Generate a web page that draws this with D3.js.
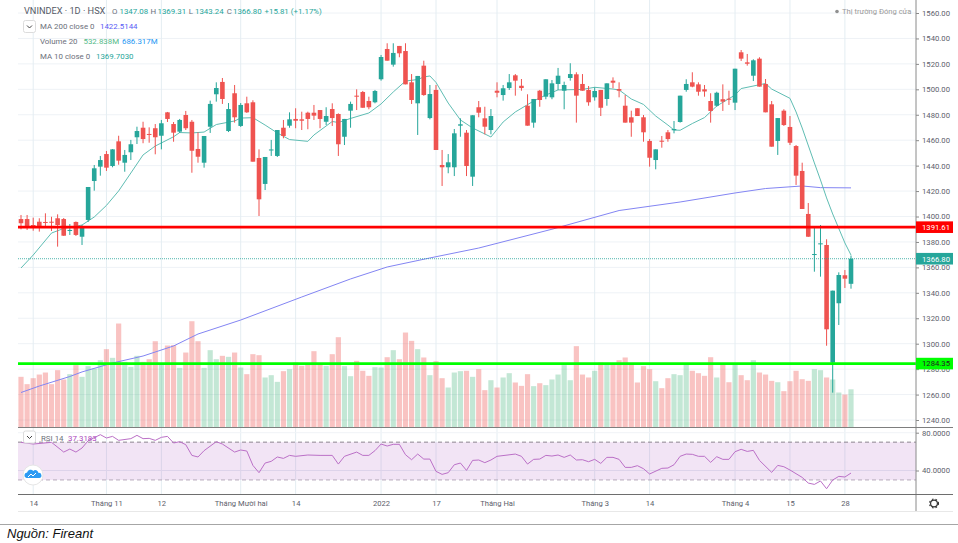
<!DOCTYPE html>
<html lang="vi">

<head>
    <meta charset="utf-8">
    <script src="https://d3js.org/d3.v7.min.js"></script>
    <style>
        body { margin: 0; background: white; }
        svg text { font-family: Roboto, sans-serif; }
        .axis-y text, .axis-rsi text { font-size: 7.7px; fill: #5d606b; }
        .axis-x text { font-size: 7.6px; fill: #5d606b; }
        .legend { font-size: 7.9px; fill: #6b6f7a; }
    </style>
</head>

<body>
    <div id="chart"></div>

    <script>
        // daily candles
        const opens = [
            1398.0, 1398.0, 1393.3, 1395.9, 1395.7, 1395.9, 1398.6, 1398.0, 1388.6, 1395.7,
            1384.1, 1397.3, 1427.9, 1439.2, 1449.1, 1439.7, 1459.1, 1442.3, 1450.5, 1462.3,
            1469.8, 1464.9, 1469.4, 1463.5, 1481.9, 1472.7, 1466.7, 1479.8, 1474.5, 1453.1,
            1442.3, 1470.6, 1496.1, 1505.8, 1467.2, 1496.9, 1471.2, 1489.0, 1489.8, 1446.0,
            1425.6, 1452.0, 1447.6, 1469.8, 1471.4, 1476.7, 1476.4, 1481.6, 1481.6, 1483.7,
            1474.5, 1484.5, 1480.6, 1462.7, 1483.2, 1495.0, 1497.9, 1490.8, 1489.8, 1507.9,
            1531.7, 1519.4, 1534.1, 1530.1, 1505.5, 1489.0, 1518.6, 1477.4, 1499.5, 1440.5,
            1438.7, 1438.7, 1471.4, 1465.9, 1431.3, 1485.9, 1477.2, 1468.0, 1498.9, 1495.5,
            1501.0, 1511.0, 1502.8, 1487.1, 1473.8, 1498.9, 1494.2, 1493.7, 1504.2, 1498.9,
            1508.9, 1511.8, 1504.2, 1499.5, 1493.7, 1499.5, 1492.4, 1506.8, 1500.2, 1487.1,
            1478.0, 1485.1, 1478.0, 1459.4, 1444.4, 1459.6, 1466.2, 1467.8, 1474.3, 1499.5,
            1505.5, 1503.9, 1500.0, 1490.8, 1487.1, 1492.2, 1492.6, 1489.5, 1529.1, 1521.2,
            1510.7, 1524.1, 1504.2, 1488.2, 1459.4, 1483.2, 1470.4, 1455.4, 1435.8, 1402.0,
            1370.0, 1378.1, 1377.6, 1285.1, 1331.8, 1353.8, 1347.08
        ];
        const closes = [
            1394.7, 1392.0, 1392.5, 1392.0, 1394.9, 1395.1, 1393.3, 1384.9, 1389.4, 1385.5,
            1392.0, 1423.2, 1437.9, 1444.4, 1438.4, 1452.8, 1443.9, 1448.4, 1456.8, 1467.2,
            1460.9, 1464.3, 1462.3, 1473.3, 1476.7, 1465.9, 1475.9, 1469.4, 1451.7, 1447.0,
            1463.3, 1488.5, 1501.0, 1492.4, 1484.5, 1478.0, 1487.7, 1481.9, 1443.1, 1413.5,
            1446.8, 1452.7, 1468.0, 1463.3, 1476.4, 1475.3, 1475.3, 1476.7, 1479.3, 1476.7,
            1479.0, 1477.4, 1456.8, 1476.7, 1488.5, 1494.2, 1485.5, 1485.9, 1498.7, 1525.4,
            1522.5, 1528.6, 1528.3, 1503.9, 1491.6, 1510.5, 1495.5, 1496.3, 1452.3, 1438.7,
            1442.6, 1465.4, 1472.5, 1439.7, 1479.6, 1481.6, 1470.6, 1479.0, 1497.3, 1500.8,
            1505.5, 1506.8, 1501.0, 1471.4, 1492.4, 1491.6, 1507.9, 1504.7, 1510.7, 1503.4,
            1512.0, 1495.0, 1498.9, 1489.8, 1498.7, 1485.5, 1504.7, 1505.2, 1498.9, 1473.8,
            1473.8, 1479.0, 1466.2, 1446.2, 1452.8, 1458.8, 1460.9, 1468.8, 1495.0, 1504.2,
            1502.1, 1498.1, 1498.3, 1483.0, 1497.3, 1490.3, 1491.8, 1516.2, 1524.1, 1520.1,
            1522.8, 1502.1, 1481.9, 1454.9, 1477.4, 1471.9, 1458.0, 1432.1, 1405.9, 1384.1,
            1370.5, 1378.9, 1311.3, 1341.7, 1354.0, 1351.1, 1366.80
        ];
        const highs = [
            1401.2, 1401.2, 1399.1, 1398.6, 1402.5, 1399.8, 1401.7, 1398.8, 1394.1, 1396.1,
            1393.3, 1423.2, 1440.5, 1447.6, 1451.5, 1453.0, 1463.5, 1452.3, 1460.2, 1470.6,
            1474.5, 1470.1, 1472.7, 1475.9, 1482.2, 1474.3, 1476.7, 1483.0, 1475.9, 1466.2,
            1463.3, 1491.1, 1505.5, 1508.9, 1489.2, 1503.4, 1489.2, 1494.2, 1491.4, 1452.8,
            1446.8, 1460.2, 1468.0, 1475.9, 1481.9, 1485.1, 1482.4, 1482.4, 1487.7, 1483.7,
            1485.9, 1489.0, 1481.1, 1476.7, 1490.3, 1500.0, 1498.7, 1494.2, 1499.5, 1527.0,
            1536.2, 1536.2, 1534.1, 1536.2, 1512.0, 1510.5, 1522.5, 1503.4, 1503.4, 1452.3,
            1449.1, 1468.8, 1477.2, 1468.0, 1479.6, 1490.8, 1486.3, 1484.5, 1505.5, 1503.4,
            1512.0, 1512.0, 1508.1, 1496.1, 1492.4, 1499.5, 1507.9, 1507.3, 1516.8, 1506.0,
            1520.5, 1513.4, 1512.0, 1502.6, 1501.6, 1499.5, 1504.7, 1509.4, 1505.5, 1495.5,
            1483.2, 1485.1, 1479.8, 1460.9, 1452.8, 1463.3, 1468.0, 1475.1, 1495.0, 1507.9,
            1513.4, 1505.5, 1503.4, 1496.9, 1498.1, 1503.9, 1498.9, 1516.2, 1530.9, 1527.8,
            1523.6, 1525.2, 1508.1, 1490.8, 1477.4, 1484.3, 1479.0, 1456.2, 1442.3, 1410.6,
            1392.5, 1393.3, 1382.1, 1341.7, 1356.1, 1357.9, 1369.31
        ];
        const lows = [
            1389.9, 1389.4, 1388.8, 1388.1, 1392.0, 1388.6, 1376.3, 1384.7, 1385.5, 1384.7,
            1377.6, 1395.7, 1420.3, 1432.1, 1435.8, 1438.7, 1440.7, 1435.2, 1444.4, 1457.0,
            1457.6, 1458.0, 1448.9, 1452.8, 1474.3, 1458.8, 1465.7, 1468.0, 1434.4, 1442.3,
            1438.4, 1465.7, 1490.3, 1488.5, 1466.4, 1473.8, 1470.4, 1481.4, 1443.1, 1400.4,
            1420.8, 1447.6, 1446.8, 1461.5, 1469.8, 1469.4, 1468.0, 1468.6, 1475.9, 1469.4,
            1471.9, 1471.2, 1447.6, 1456.2, 1469.8, 1483.7, 1485.5, 1484.3, 1489.0, 1506.8,
            1522.5, 1517.8, 1525.2, 1503.9, 1488.5, 1464.1, 1494.9, 1476.4, 1452.3, 1424.0,
            1434.0, 1431.8, 1462.7, 1431.8, 1424.0, 1478.0, 1464.6, 1464.6, 1493.7, 1491.1,
            1499.5, 1495.0, 1498.9, 1471.4, 1469.8, 1486.3, 1492.2, 1492.2, 1499.5, 1484.3,
            1506.8, 1473.8, 1498.9, 1487.1, 1491.1, 1479.0, 1487.1, 1500.8, 1493.7, 1473.8,
            1462.7, 1479.0, 1458.8, 1439.2, 1437.1, 1454.1, 1458.8, 1465.4, 1473.8, 1498.1,
            1501.6, 1495.0, 1494.2, 1473.8, 1486.3, 1483.0, 1487.7, 1483.7, 1522.3, 1518.6,
            1506.5, 1502.1, 1481.9, 1454.9, 1448.4, 1471.2, 1456.2, 1424.8, 1405.9, 1383.9,
            1356.6, 1352.7, 1298.4, 1261.5, 1314.7, 1343.8, 1343.24
        ];

        // volume in millions
        const volumes = [
            707, 605, 688, 739, 767, 605, 800, 670, 744, 870,
            707, 856, 823, 939, 1093, 972, 1451, 916, 846, 1000,
            916, 953, 1204, 893, 1144, 1149, 832, 1046, 1483, 1204,
            832, 1079, 953, 1000, 986, 1046, 837, 744, 1023, 1009,
            698, 730, 637, 786, 814, 907, 860, 884, 1065, 893,
            860, 1023, 1260, 856, 716, 930, 791, 721, 842, 837,
            981, 1079, 953, 1325, 1209, 1093, 977, 730, 925, 688,
            558, 767, 786, 791, 707, 814, 521, 660, 558, 698,
            758, 628, 581, 744, 577, 618, 591, 670, 739, 870,
            660, 1135, 739, 698, 791, 907, 902, 879, 939, 977,
            893, 628, 856, 814, 646, 549, 688, 744, 730, 893,
            791, 758, 721, 981, 698, 884, 632, 893, 730, 660,
            939, 767, 739, 651, 632, 507, 646, 791, 674, 651,
            814, 800, 698, 670, 488, 460, 533
        ];

        // line vertices as read: bar number and value
        const ma10Bars = [0, 2, 5, 7, 10, 12, 14, 16, 18, 20, 22, 25, 26, 28, 30, 32, 35, 36, 38, 40, 42, 44, 47, 48, 51, 52, 54, 57, 59, 61, 63, 65, 66, 67, 68, 70, 72, 74, 76, 77, 79, 81, 84, 86, 88, 92, 94, 97, 98, 100, 102, 104, 106, 107, 108, 110, 112, 114, 117, 118, 122, 123, 126, 127, 128, 130, 131, 132, 133, 135, 136];
        const ma10Values = [1359.5, 1369.7, 1387.0, 1390.6, 1393.3, 1399.6, 1408.7, 1420.1, 1434.2, 1448.4, 1455.4, 1462.7, 1466.0, 1465.7, 1466.4, 1472.3, 1475.1, 1477.4, 1477.7, 1471.9, 1465.7, 1460.5, 1459.1, 1464.1, 1474.7, 1473.9, 1477.1, 1481.4, 1488.5, 1497.9, 1506.5, 1507.7, 1509.7, 1510.5, 1505.4, 1489.2, 1475.9, 1469.6, 1464.9, 1462.5, 1474.3, 1482.2, 1490.8, 1495.5, 1499.5, 1499.9, 1501.6, 1500.2, 1499.5, 1492.4, 1488.1, 1479.0, 1471.9, 1468.0, 1467.8, 1473.1, 1477.8, 1486.9, 1495.5, 1500.6, 1504.6, 1500.2, 1492.9, 1482.2, 1469.6, 1442.1, 1428.7, 1414.6, 1402.0, 1379.2, 1369.7];

        const ma200Bars = [0, 3, 8, 10, 15, 20, 25, 29, 36, 46, 54, 60, 67, 75, 87, 98, 108, 117, 122, 128, 131, 136];
        const ma200Values = [1261.6, 1266.7, 1274.2, 1277.8, 1284.8, 1290.3, 1298.2, 1307.6, 1318.6, 1336.7, 1350.9, 1360.3, 1367.4, 1375.2, 1390.0, 1404.7, 1411.4, 1418.5, 1422.0, 1424.0, 1422.7, 1422.51];

        const rsiBars = [0, 2, 5, 7, 8, 9, 10, 11, 13, 14, 15, 16, 18, 19, 20, 21, 22, 23, 24, 25, 26, 27, 28, 29, 30, 32, 33, 35, 36, 37, 38, 39, 40, 41, 42, 43, 44, 45, 47, 49, 51, 52, 53, 55, 56, 57, 58, 59, 60, 61, 62, 63, 64, 65, 66, 67, 68, 69, 70, 71, 72, 73, 74, 75, 76, 77, 78, 81, 82, 83, 84, 85, 86, 87, 88, 89, 90, 91, 92, 93, 94, 95, 96, 97, 98, 99, 100, 101, 102, 103, 105, 106, 107, 108, 109, 110, 111, 112, 113, 114, 115, 116, 117, 118, 119, 120, 121, 123, 124, 125, 126, 128, 129, 130, 131, 132, 133, 134, 135, 136];
        const rsiValues = [69.8, 68.0, 69.8, 59.5, 62.7, 59.5, 63.8, 71.5, 77.9, 74.4, 76.1, 71.9, 73.7, 77.2, 73.7, 74.0, 71.9, 75.1, 76.1, 69.1, 70.5, 67.3, 56.0, 54.3, 61.0, 70.5, 68.0, 59.5, 61.7, 60.6, 45.4, 37.7, 47.9, 49.7, 54.3, 52.8, 56.0, 55.0, 56.4, 56.0, 56.0, 46.8, 55.0, 59.5, 56.0, 56.0, 61.0, 68.0, 65.9, 67.7, 67.7, 56.7, 51.4, 57.4, 52.1, 52.1, 39.1, 35.9, 37.7, 46.1, 47.9, 40.1, 50.7, 51.1, 48.3, 51.1, 55.0, 57.4, 55.0, 46.8, 51.8, 52.1, 56.0, 55.3, 56.4, 53.9, 56.4, 51.1, 51.4, 49.3, 51.8, 47.5, 53.9, 53.9, 51.8, 43.3, 43.3, 45.1, 41.9, 36.3, 42.3, 42.6, 46.1, 55.0, 57.4, 57.1, 55.0, 55.0, 48.6, 54.6, 51.8, 51.8, 59.9, 62.4, 60.2, 61.3, 50.7, 38.0, 45.4, 44.0, 40.5, 32.7, 26.7, 25.3, 28.9, 20.7, 29.9, 33.8, 33.1, 37.3];

        // axis labels
        const priceTicks = [1240, 1260, 1280, 1300, 1320, 1340, 1360, 1380, 1400, 1420, 1440, 1460, 1480, 1500, 1520, 1540, 1560];
        const rsiTicks = [40, 80];
        const timeBars = [2, 14, 23, 36, 45, 59, 68, 78, 94, 103, 117, 126, 135];
        const timeLabels = ["14", "Tháng 11", "12", "Tháng Mười hai", "14", "2022", "17", "Tháng Hai", "Tháng 3", "14", "Tháng 4", "15", "28"];

        // drawn price levels
        const redLevel = 1391.61;
        const greenLevel = 1284.35;
        const lastClose = 1366.80;

        const up = "#26a69a", down = "#ef5350";
        const left = 18, axisX = 916, right = 953;
        const paneBottom = 427.5, rsiBottom = 494.5;

        const svg = d3.select("#chart").append("svg")
            .attr("width", 958)
            .attr("height", 543)
            .style("display", "block");

        const x = d3.scaleLinear().domain([0, 136]).range([21, 851]);
        const y = d3.scaleLinear().domain([1240, 1560]).range([420, 13]);
        const yVol = d3.scaleLinear().domain([0, 1500]).range([paneBottom, 320]);
        const yRsi = d3.scaleLinear().domain([40, 80]).range([470.5, 432.7]);

        // grid
        const grid = svg.append("g");
        grid.selectAll(".h").data(priceTicks).join("line")
            .attr("x1", left).attr("x2", axisX)
            .attr("y1", d => y(d)).attr("y2", d => y(d))
            .attr("stroke", "#eef2f6");
        grid.selectAll(".v").data(timeBars).join("line")
            .attr("x1", d => x(d)).attr("x2", d => x(d))
            .attr("y1", 0).attr("y2", rsiBottom)
            .attr("stroke", "#e4edf2");

        // RSI band sits under the lines
        const rsi = svg.append("g");
        rsi.append("rect")
            .attr("x", left).attr("width", axisX - left)
            .attr("y", yRsi(70)).attr("height", yRsi(30) - yRsi(70))
            .attr("fill", "#ab47bc").attr("opacity", 0.15);
        rsi.append("line")
            .attr("x1", left).attr("x2", axisX)
            .attr("y1", yRsi(80)).attr("y2", yRsi(80))
            .attr("stroke", "#f0f3f7");
        rsi.append("line")
            .attr("x1", left).attr("x2", axisX)
            .attr("y1", yRsi(40)).attr("y2", yRsi(40))
            .attr("stroke", "#ddd3ea");
        [70, 30].forEach(v => rsi.append("line")
            .attr("x1", left).attr("x2", axisX)
            .attr("y1", yRsi(v)).attr("y2", yRsi(v))
            .attr("stroke", v === 70 ? "#8d8590" : "#b7a9ba")
            .attr("stroke-dasharray", "4,3"));
        rsi.append("path")
            .datum(d3.zip(rsiBars, rsiValues))
            .attr("fill", "none")
            .attr("stroke", "#bb70c7")
            .attr("stroke-width", 1)
            .attr("d", d3.line().x(d => x(d[0])).y(d => yRsi(d[1])));

        // volume
        const isUp = i => closes[i] >= opens[i];
        svg.append("g").selectAll("rect").data(volumes).join("rect")
            .attr("x", (d, i) => x(i) - 2.6)
            .attr("width", 5.2)
            .attr("y", d => yVol(d))
            .attr("height", d => paneBottom - yVol(d))
            .attr("fill", (d, i) => isUp(i) ? "#53b987" : "#ef5350")
            .attr("opacity", 0.35);

        // moving averages
        const priceLine = d3.line().x(d => x(d[0])).y(d => y(d[1]));
        svg.append("path")
            .datum(d3.zip(ma200Bars, ma200Values))
            .attr("fill", "none").attr("stroke", "#8385f3").attr("stroke-width", 1)
            .attr("d", priceLine);
        svg.append("path")
            .datum(d3.zip(ma10Bars, ma10Values))
            .attr("fill", "none").attr("stroke", "#5fbdb3").attr("stroke-width", 1)
            .attr("d", priceLine);

        // candles
        const candles = svg.append("g").selectAll("g").data(opens).join("g");
        candles.append("line")
            .attr("x1", (d, i) => x(i)).attr("x2", (d, i) => x(i))
            .attr("y1", (d, i) => y(highs[i])).attr("y2", (d, i) => y(lows[i]))
            .attr("stroke", (d, i) => isUp(i) ? up : down);
        candles.append("rect")
            .attr("x", (d, i) => x(i) - 2.3)
            .attr("width", 4.6)
            .attr("y", (d, i) => y(Math.max(opens[i], closes[i])))
            .attr("height", (d, i) => Math.max(1, Math.abs(y(opens[i]) - y(closes[i]))))
            .attr("fill", (d, i) => isUp(i) ? up : down);

        // last price dotted line and the two drawn levels
        svg.append("line")
            .attr("x1", left).attr("x2", axisX)
            .attr("y1", y(lastClose)).attr("y2", y(lastClose))
            .attr("stroke", up).attr("stroke-dasharray", "1,1").attr("opacity", 0.8);
        svg.append("line")
            .attr("x1", left).attr("x2", axisX)
            .attr("y1", y(redLevel)).attr("y2", y(redLevel))
            .attr("stroke", "#ff0000").attr("stroke-width", 2.8);
        svg.append("line")
            .attr("x1", left).attr("x2", axisX)
            .attr("y1", y(greenLevel)).attr("y2", y(greenLevel))
            .attr("stroke", "#00ff00").attr("stroke-width", 2.8);

        // axes
        const axisY = svg.append("g").attr("class", "axis-y")
            .attr("transform", `translate(${axisX},0)`)
            .call(d3.axisRight(y).tickValues(priceTicks).tickFormat(d3.format(".2f")).tickSize(3).tickPadding(3));
        axisY.select(".domain").remove();
        const axisR = svg.append("g").attr("class", "axis-rsi")
            .attr("transform", `translate(${axisX},0)`)
            .call(d3.axisRight(yRsi).tickValues(rsiTicks).tickFormat(d3.format(".4f")).tickSize(3).tickPadding(3));
        axisR.select(".domain").remove();
        svg.selectAll(".axis-y line, .axis-rsi line").attr("stroke", "#8a8a8a");

        const axisB = svg.append("g").attr("class", "axis-x")
            .attr("transform", `translate(0,${rsiBottom})`)
            .call(d3.axisBottom(x).tickValues(timeBars).tickFormat((d, i) => timeLabels[i]).tickSize(0).tickPadding(6));
        axisB.select(".domain").remove();

        // frame lines
        svg.append("line").attr("x1", axisX).attr("x2", axisX).attr("y1", 0).attr("y2", 511)
            .attr("stroke", "#8a8a8a");
        svg.append("line").attr("x1", left).attr("x2", right).attr("y1", paneBottom).attr("y2", paneBottom)
            .attr("stroke", "#7e7e7e");
        svg.append("line").attr("x1", left).attr("x2", right).attr("y1", rsiBottom).attr("y2", rsiBottom)
            .attr("stroke", "#6e6e6e");
        svg.append("line").attr("x1", left).attr("x2", right).attr("y1", 511.5).attr("y2", 511.5)
            .attr("stroke", "#e8e8e8");
        svg.append("line").attr("x1", 0).attr("x2", 958).attr("y1", 524.5).attr("y2", 524.5)
            .attr("stroke", "#a6a6a6");

        // price tags on the axis
        function priceTag(value, fill, color) {
            svg.append("rect")
                .attr("x", axisX).attr("width", right - axisX)
                .attr("y", y(value) - 5.8).attr("height", 11.6)
                .attr("fill", fill);
            svg.append("text")
                .attr("x", axisX + 6).attr("y", y(value) + 2.8)
                .attr("font-size", 7.7).attr("fill", color)
                .text(value.toFixed(2));
        }
        priceTag(redLevel, "#ff0000", "white");
        priceTag(lastClose, up, "white");
        priceTag(greenLevel, "#00ff00", "#222");

        // title row, the values are set smaller than the name
        const titleRow = [
            ["VNINDEX · 1D · HSX", "#555a66", 24, 9.2],
            ["O", "#6b6f7a", 112, 7.9], ["1347.08", up, 119.5, 7.9],
            ["H", "#6b6f7a", 150.5, 7.9], ["1369.31", up, 157.5, 7.9],
            ["L", "#6b6f7a", 188.7, 7.9], ["1343.24", up, 195, 7.9],
            ["C", "#6b6f7a", 226.7, 7.9], ["1366.80", up, 233, 7.9],
            ["+15.81 (+1.17%)", up, 264.5, 7.9]
        ];
        titleRow.forEach(t => svg.append("text")
            .attr("x", t[2]).attr("y", 13.5)
            .attr("font-size", t[3]).attr("fill", t[1])
            .text(t[0]));

        const rows = [
            [26, [["MA 200 close 0", "#6b6f7a", 40], ["1422.5144", "#5a5cf5", 100]]],
            [41, [["Volume 20", "#6b6f7a", 40], ["532.838M", "#53b987", 83.5], ["686.317M", "#2196f3", 122]]],
            [56, [["MA 10 close 0", "#6b6f7a", 40], ["1369.7030", up, 96]]],
            [438, [["RSI 14", "#6b6f7a", 41], ["37.3183", "#ab47bc", 68]]]
        ];
        rows.forEach(r => r[1].forEach(t => svg.append("text")
            .attr("class", "legend")
            .attr("x", t[2]).attr("y", r[0] + 3)
            .style("fill", t[1])
            .text(t[0])));

        // collapse buttons
        [[23.5, 20.5], [23.5, 431]].forEach(p => {
            svg.append("rect").attr("x", p[0]).attr("y", p[1]).attr("width", 12).attr("height", 12).attr("rx", 2)
                .attr("fill", "white").attr("stroke", "#dcdcdc");
            svg.append("path").attr("d", `M${p[0] + 3.5},${p[1] + 5} l2.5,2.5 l2.5,-2.5`)
                .attr("fill", "none").attr("stroke", "#444");
        });

        // market status
        svg.append("circle").attr("cx", 837).attr("cy", 11.5).attr("r", 1.8).attr("fill", "#909090");
        svg.append("text").attr("x", 842).attr("y", 14).attr("font-size", 7.6).attr("fill", "#9a9a9a")
            .text("Thị trường Đóng cửa");

        // cloud badge
        svg.append("circle").attr("cx", 33).attr("cy", 475).attr("r", 10)
            .attr("fill", "white").attr("stroke", "#e6e6e6");
        svg.append("path")
            .attr("d", "M26.5,478 a2.8,2.8 0 0 1 0.6,-5.5 a3.6,3.6 0 0 1 6.2,-1.6 a3,3 0 0 1 5,1.9 a2.6,2.6 0 0 1 1,5.2 z")
            .attr("fill", "#2b9af3");
        svg.append("path").attr("d", "M28,477 l3,-3 l2,2 l3,-3")
            .attr("fill", "none").attr("stroke", "white").attr("stroke-width", 1);

        // settings gear
        svg.append("circle").attr("cx", 934).attr("cy", 503.5).attr("r", 3.4)
            .attr("fill", "none").attr("stroke", "#333").attr("stroke-width", 1.2);
        svg.append("circle").attr("cx", 934).attr("cy", 503.5).attr("r", 4.5)
            .attr("fill", "none").attr("stroke", "#333").attr("stroke-width", 1.1).attr("stroke-dasharray", "1.6,2.1");

        // source line
        svg.append("text").attr("x", 7).attr("y", 538)
            .style("font-family", "'Liberation Sans', sans-serif")
            .style("font-style", "italic")
            .attr("font-size", 13).attr("fill", "#111")
            .text("Nguồn: Fireant");
    </script>

</body>

</html>
